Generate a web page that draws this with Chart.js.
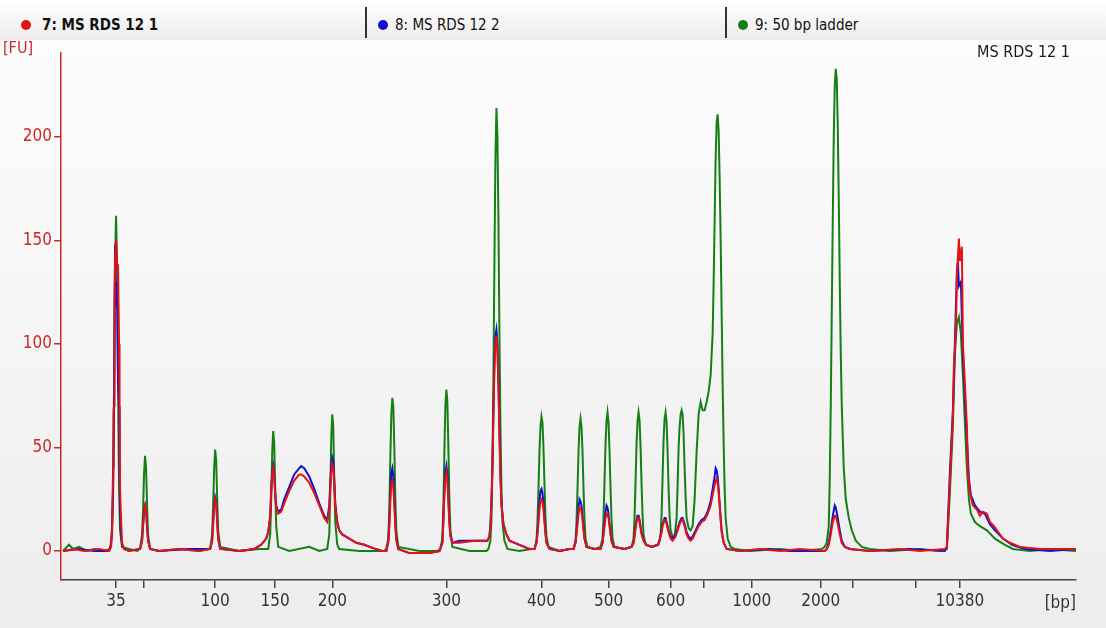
<!DOCTYPE html>
<html>
<head>
<meta charset="utf-8">
<script src="https://cdn.jsdelivr.net/npm/chart.js@4.4.1/dist/chart.umd.min.js"></script>
<style>
  html, body { margin: 0; padding: 0; }
  body {
    width: 1106px; height: 628px; overflow: hidden; position: relative;
    background: linear-gradient(#fdfdfd 0px, #f6f6f6 300px, #ededed 628px);
    font-family: "DejaVu Sans Condensed", "DejaVu Sans", sans-serif;
  }
  #head {
    position: absolute; left: 0; top: 0; width: 1106px; height: 40px;
    background: linear-gradient(#ffffff, #ececec);
  }
  .cell { position: absolute; top: 0; height: 40px; font-size: 15px; color: #111; }
  .cell .dot { position: absolute; top: 20px; width: 10px; height: 10px; border-radius: 50%; }
  .cell .txt { position: absolute; top: 16px; white-space: nowrap; }
  .sep { position: absolute; top: 7px; width: 2px; height: 31px; background: #333; }
  canvas { position: absolute; left: 0; top: 0; }
</style>
</head>
<body>
<canvas id="trace" width="1106" height="628"></canvas>
<div id="head"></div>
<script>
// sample names and colours
const sampleNames = ["7: MS RDS 12 1", "8: MS RDS 12 2", "9: 50 bp ladder"];
const sampleColors = ["rgb(228,18,18)", "rgb(18,18,205)", "rgb(20,128,20)"];

// x axis: migration time [s], tick positions and their size labels [bp]
const xTickPos = [11.7, 14.5, 21.6, 27.6, 33.3, 44.7, 54.2, 60.9, 67.1, 70.4, 75.2, 82.1, 85.3, 91.6, 96.0];
const xTickLabels = ["35", "", "100", "150", "200", "300", "400", "500", "600", "", "1000", "2000", "", "", "10380"];
const yTicks = [0, 50, 100, 150, 200];

// fluorescence [FU] vs time [s]
const sample7 = [[6.4,0],[7.5,1],[8.5,0],[10.0,1],[11.0,0],
  [11.2,2],[11.3,10],[11.4,40],[11.45,68],[11.5,70],[11.55,120],[11.6,140],[11.7,150],[11.8,138],[11.9,138],[12.0,100],[12.05,70],[12.1,30],[12.2,15],[12.3,4],[12.5,1],
  [13.0,0],[14.0,1],
  [14.1,1],[14.3,5],[14.4,12],[14.5,19],[14.6,22],[14.7,20],[14.8,12],[14.9,5],[15.1,1],
  [16.0,0],[18.0,1],[20.0,0],
  [21.1,1],[21.3,5],[21.4,13],[21.5,21],[21.6,25],[21.7,23],[21.8,15],[21.9,6],[22.1,1],
  [24.0,0],[25.5,1],[26.2,3],[26.7,6],[26.9,9],[27.1,16],[27.2,28],[27.3,37],[27.4,40],[27.5,36],[27.6,27],[27.7,21],[27.9,18],[28.2,19],[28.5,23],[29.0,29],[29.5,34],[30.0,37],[30.2,37],[30.5,36],[31.0,33],[31.5,28],[32.0,22],[32.5,16],[32.8,14],
  [33.0,20],[33.1,30],[33.2,38],[33.3,42],[33.4,40],[33.5,32],[33.6,22],[33.8,13],[34.0,10],[34.3,8],[35.0,6],[35.7,4],[36.5,3],[37.3,1.5],[38.3,0],
  [38.7,0],[38.9,4],[39.0,12],[39.1,24],[39.2,32],[39.3,34],[39.4,31],[39.5,22],[39.6,12],[39.7,5],[39.9,1],
  [41.0,-1],[43.0,-1],[44.0,0],
  [44.3,4],[44.4,14],[44.5,27],[44.6,35],[44.7,38],[44.8,34],[44.9,24],[45.0,13],[45.1,7],[45.3,4],
  [46.0,4],[47.5,5],[48.8,5],
  [49.0,7],[49.1,12],[49.2,22],[49.3,40],[49.4,65],[49.5,88],[49.6,100],[49.7,104],[49.8,97],[49.9,80],[50.0,56],[50.1,36],[50.2,22],[50.4,13],[50.7,8],[51.0,5],[52.0,3],[53.0,1],
  [53.5,1],[53.7,4],[53.8,8],[53.9,14],[54.0,20],[54.1,24],[54.2,25],[54.3,24],[54.4,20],[54.5,14],[54.6,8],[54.7,4],[55.0,1],
  [56.0,0],[57.0,1],
  [57.4,1],[57.6,4],[57.7,8],[57.8,13],[57.9,18],[58.0,21],[58.1,21],[58.2,19],[58.3,15],[58.4,10],[58.5,6],[58.7,2],
  [59.5,1],
  [60.1,1],[60.3,4],[60.4,8],[60.5,12],[60.6,16],[60.7,18],[60.8,18],[60.9,16],[61.0,12],[61.1,8],[61.2,5],[61.4,2],
  [62.5,1],
  [63.2,2],[63.4,4],[63.5,7],[63.6,11],[63.7,14],[63.8,16],[63.9,16],[64.0,14],[64.1,11],[64.2,8],[64.4,5],[64.7,3],[65.2,2],
  [65.8,3],[66.0,5],[66.2,9],[66.3,12],[66.5,15],[66.6,15],[66.7,13],[66.9,9],[67.1,6],[67.3,5],
  [67.6,7],[67.8,10],[68.0,13],[68.2,15],[68.3,15],[68.5,12],[68.7,8],[68.9,6],[69.1,5],[69.3,6],[69.6,9],[69.9,12],[70.2,14],[70.5,15],[70.8,18],[71.1,22],[71.3,27],[71.5,32],[71.7,35],[71.8,33],[71.9,28],[72.0,22],[72.1,15],[72.2,9],[72.4,4],[72.7,1],
  [74.0,0],[76.0,1],[78.0,0],[80.0,1],[82.5,0],
  [82.7,1],[82.9,3],[83.1,8],[83.3,14],[83.5,17],[83.6,17],[83.8,13],[84.0,8],[84.2,4],[84.5,2],[85.0,1],
  [87.0,0],[90.0,1],[92.0,0],[94.5,1],
  [94.7,2],[95.0,33],[95.3,65],[95.4,89],[95.6,107],[95.7,132],[95.9,151],[96.0,140],[96.2,147],[96.3,100],[96.5,81],[96.7,60],[96.8,38],[97.0,28],[97.3,22],[97.7,20],[98.0,17],[98.3,19],[98.7,18],[99.0,14],[99.4,12],[99.7,10],[100.3,6],[101.0,4],[102.0,2],[104.0,1],[106.0,1],[107.6,1]];

const sample8 = [[6.4,0],[8.0,1],[9.5,0],[11.0,0],
  [11.2,3],[11.3,12],[11.4,28],[11.5,70],[11.6,148],[11.7,118],[11.8,130],[11.9,80],[12.0,70],[12.05,40],[12.1,20],[12.2,8],[12.3,3],[12.5,1],
  [13.0,0],
  [14.1,1],[14.3,5],[14.4,13],[14.5,20],[14.6,22],[14.7,19],[14.8,11],[14.9,5],[15.1,1],
  [16.0,0],[19.0,1],
  [21.1,1],[21.3,5],[21.4,14],[21.5,22],[21.6,26],[21.7,24],[21.8,15],[21.9,6],[22.1,1],
  [24.0,0],[25.5,1],[26.2,3],[26.7,6],[26.9,9],[27.1,17],[27.2,30],[27.3,38],[27.4,41],[27.5,37],[27.6,28],[27.7,22],[27.9,19],[28.2,20],[28.5,25],[29.0,31],[29.5,37],[30.0,40],[30.2,41],[30.5,40],[31.0,36],[31.5,30],[32.0,23],[32.5,17],[32.8,15],
  [33.0,22],[33.1,33],[33.2,41],[33.3,45],[33.4,43],[33.5,34],[33.6,23],[33.8,14],[34.0,10],[34.3,8],[35.0,6],[35.7,4],[36.5,3],[37.3,1.5],[38.3,0],
  [38.7,0],[38.9,5],[39.0,14],[39.1,28],[39.2,38],[39.3,40],[39.4,36],[39.5,25],[39.6,13],[39.7,6],[39.9,1],
  [41.0,-1],[43.0,-1],[44.0,0],
  [44.3,4],[44.4,15],[44.5,30],[44.6,38],[44.7,41],[44.8,37],[44.9,26],[45.0,14],[45.1,8],[45.3,4],
  [46.0,5],[47.5,5],[48.8,5],
  [49.0,7],[49.1,13],[49.2,24],[49.3,42],[49.4,68],[49.5,92],[49.6,104],[49.7,107],[49.8,100],[49.9,82],[50.0,58],[50.1,37],[50.2,23],[50.4,13],[50.7,8],[51.0,5],[52.0,3],[53.0,1],
  [53.5,1],[53.7,4],[53.8,9],[53.9,16],[54.0,24],[54.1,29],[54.2,30],[54.3,28],[54.4,23],[54.5,16],[54.6,9],[54.7,4],[55.0,1],
  [56.0,0],[57.0,1],
  [57.4,1],[57.6,4],[57.7,9],[57.8,15],[57.9,21],[58.0,25],[58.1,24],[58.2,22],[58.3,17],[58.4,11],[58.5,6],[58.7,2],
  [59.5,1],
  [60.1,1],[60.3,4],[60.4,9],[60.5,14],[60.6,19],[60.7,22],[60.8,21],[60.9,18],[61.0,13],[61.1,9],[61.2,5],[61.4,2],
  [62.5,1],
  [63.2,2],[63.4,4],[63.5,8],[63.6,12],[63.7,15],[63.8,17],[63.9,17],[64.0,15],[64.1,12],[64.2,9],[64.4,5],[64.7,3],[65.2,2],
  [65.8,3],[66.0,5],[66.2,10],[66.3,13],[66.5,16],[66.6,16],[66.7,14],[66.9,10],[67.1,7],[67.3,6],
  [67.6,8],[67.8,11],[68.0,14],[68.2,16],[68.3,16],[68.5,13],[68.7,9],[68.9,7],[69.1,6],[69.3,7],[69.6,10],[69.9,13],[70.2,15],[70.5,16],[70.8,19],[71.1,24],[71.3,30],[71.5,36],[71.6,40],[71.7,39],[71.8,36],[71.9,30],[72.0,23],[72.1,16],[72.2,10],[72.4,4],[72.7,1],
  [74.0,0],[77.0,1],[79.0,0],[82.5,0],
  [82.7,1],[82.9,4],[83.1,10],[83.3,17],[83.5,22],[83.6,21],[83.8,16],[84.0,10],[84.2,5],[84.5,2],[85.0,1],
  [87.0,0],[91.0,1],[94.5,0],
  [94.7,2],[95.0,38],[95.3,68],[95.5,100],[95.7,135],[95.8,140],[95.9,128],[96.1,130],[96.3,95],[96.5,75],[96.7,55],[96.9,35],[97.1,27],[97.5,22],[98.0,19],[98.5,18],[99.0,13],[99.5,10],[100.3,6],[101.2,3],[102.5,1],[105.0,0],[107.6,1]];

const ladder9 = [[6.4,0],[7.0,3],[7.4,1],[8.0,2],[8.8,0],[9.5,1],[10.5,0],
  [11.1,1],[11.3,8],[11.4,30],[11.5,80],[11.6,140],[11.7,162],[11.8,140],[11.9,80],[12.0,30],[12.1,10],[12.3,2],
  [13.0,1],[13.8,0],
  [14.1,1],[14.3,8],[14.4,20],[14.5,38],[14.6,46],[14.7,40],[14.8,22],[14.9,8],[15.1,1],
  [16.0,0],[18.0,1],[20.0,0],
  [21.1,1],[21.3,8],[21.4,22],[21.5,40],[21.6,49],[21.7,44],[21.8,26],[21.9,10],[22.1,2],
  [24.0,0],[26.0,1],
  [26.9,1],[27.1,8],[27.2,25],[27.3,48],[27.4,58],[27.5,52],[27.6,30],[27.7,12],[27.9,2],
  [29.0,0],[31.0,2],[32.0,0],
  [32.8,1],[33.0,8],[33.1,28],[33.2,55],[33.3,66],[33.4,60],[33.5,35],[33.6,14],[33.8,3],[34.0,1],
  [36.0,0],[38.5,0],
  [38.7,1],[38.9,6],[39.0,20],[39.1,45],[39.2,66],[39.3,74],[39.4,70],[39.5,50],[39.6,25],[39.7,10],[39.9,2],
  [42.0,0],[43.8,0],
  [44.1,1],[44.3,6],[44.4,22],[44.5,48],[44.6,70],[44.7,78],[44.8,72],[44.9,50],[45.0,25],[45.1,10],[45.3,2],
  [47.0,0],[48.7,0],
  [48.9,1],[49.1,5],[49.2,15],[49.3,40],[49.4,85],[49.5,140],[49.6,190],[49.7,214],[49.8,200],[49.9,160],[50.0,105],[50.1,60],[50.2,30],[50.3,14],[50.5,5],[50.8,1],
  [52.0,0],[53.2,1],
  [53.5,1],[53.7,5],[53.8,14],[53.9,30],[54.0,48],[54.1,60],[54.2,65],[54.3,62],[54.4,50],[54.5,32],[54.6,16],[54.7,7],[54.9,2],
  [56.0,0],[57.0,1],
  [57.4,1],[57.6,5],[57.7,14],[57.8,30],[57.9,48],[58.0,60],[58.1,64],[58.2,60],[58.3,48],[58.4,30],[58.5,15],[58.6,6],[58.8,2],
  [59.5,1],
  [60.1,2],[60.3,6],[60.4,16],[60.5,34],[60.6,52],[60.7,63],[60.8,67],[60.9,62],[61.0,48],[61.1,30],[61.2,15],[61.3,6],[61.5,2],
  [62.5,1],
  [63.2,2],[63.4,6],[63.5,16],[63.6,34],[63.7,52],[63.8,63],[63.9,67],[64.0,63],[64.1,50],[64.2,32],[64.3,17],[64.4,8],[64.6,3],
  [65.3,2],
  [65.9,3],[66.1,8],[66.2,18],[66.3,36],[66.4,54],[66.5,64],[66.6,67],[66.7,62],[66.8,48],[66.9,30],[67.0,17],[67.1,10],[67.3,7],
  [67.5,7],[67.7,16],[67.8,32],[67.9,50],[68.0,60],[68.1,66],[68.2,68],[68.3,66],[68.4,56],[68.5,40],[68.6,26],[68.7,16],[68.9,11],[69.1,10],
  [69.3,12],[69.5,25],[69.7,48],[69.9,66],[70.1,72],[70.3,68],[70.5,68],[70.7,72],[70.9,77],[71.1,85],[71.3,105],[71.4,130],[71.5,160],[71.6,190],[71.7,207],[71.8,211],[71.9,203],[72.0,180],[72.1,150],[72.2,115],[72.3,80],[72.4,52],[72.5,30],[72.6,16],[72.8,6],[73.1,2],[73.5,1],
  [75.0,0],[78.0,1],[80.0,0],[82.2,1],
  [82.5,2],[82.7,4],[82.9,12],[83.0,35],[83.1,70],[83.2,115],[83.3,160],[83.4,200],[83.5,225],[83.6,233],[83.7,228],[83.8,205],[83.9,170],[84.0,130],[84.1,95],[84.2,70],[84.4,40],[84.6,25],[84.9,16],[85.2,10],[85.6,5],[86.2,2],[87.0,1],
  [89.0,0],[92.0,1],[94.0,0],
  [94.7,1],[95.0,28],[95.3,60],[95.5,95],[95.7,110],[95.9,113],[96.1,105],[96.3,85],[96.5,62],[96.7,40],[96.9,25],[97.1,18],[97.5,14],[98.0,12],[98.7,10],[99.5,6],[100.5,3],[101.3,1],[103.0,0],[105.0,1],[107.6,0]];

const traces = [sample7, sample8, ladder9];
const fontFam = '"DejaVu Sans Condensed", "DejaVu Sans", sans-serif';
const axisRed = "rgb(205,40,40)";

// header strip with the three sample tabs
const head = document.getElementById("head");
const cellLeft = [0, 366, 726];
sampleNames.forEach((name, i) => {
  const c = document.createElement("div");
  c.className = "cell";
  c.style.left = cellLeft[i] + "px";
  c.innerHTML = '<span class="dot" style="left:' + (i === 0 ? 21 : 12) + 'px;background:' + sampleColors[i] + '"></span>' +
    '<span class="txt" style="left:' + (i === 0 ? 42 : 29) + 'px;' + (i === 0 ? 'font-weight:bold' : '') + '">' + name + '</span>';
  head.appendChild(c);
  if (i > 0) {
    const s = document.createElement("div");
    s.className = "sep";
    s.style.left = (cellLeft[i] - 1) + "px";
    head.appendChild(s);
  }
});

// unit labels and sample caption
const extraText = {
  id: "extraText",
  afterDraw(chart) {
    const ctx = chart.ctx;
    const a = chart.chartArea;
    ctx.save();
    ctx.textBaseline = "middle";
    ctx.font = "16px " + fontFam;
    ctx.fillStyle = axisRed;
    ctx.textAlign = "left";
    ctx.fillText("[FU]", 3, 49);
    ctx.fillStyle = "#1a1a1a";
    ctx.textAlign = "right";
    ctx.fillText(sampleNames[0].slice(3), a.right - 6, a.top);
    ctx.font = "17px " + fontFam;
    ctx.fillStyle = "#333";
    ctx.fillText("[bp]", a.right, a.bottom + 24);
    ctx.restore();
  }
};

new Chart(document.getElementById("trace"), {
  type: "line",
  data: {
    datasets: traces.map((pts, i) => ({
      label: sampleNames[i],
      data: pts.map(p => ({ x: p[0], y: p[1] })),
      borderColor: sampleColors[i],
      borderWidth: 2,
      pointRadius: 0,
      tension: 0,
      fill: false
    }))
  },
  options: {
    responsive: false,
    animation: false,
    devicePixelRatio: 1,
    layout: { padding: { top: 53, right: 30, left: 0, bottom: 0 } },
    plugins: { legend: { display: false }, tooltip: { enabled: false } },
    scales: {
      x: {
        type: "linear",
        min: 6.2,
        max: 107.6,
        afterBuildTicks: s => { s.ticks = xTickPos.map(v => ({ value: v })); },
        afterFit: s => { s.height = 48; },
        ticks: {
          autoSkip: false,
          maxRotation: 0,
          padding: 3,
          color: "#333",
          font: { family: fontFam, size: 17 },
          callback: (v, i) => xTickLabels[i]
        },
        grid: { drawOnChartArea: false, tickLength: 8, color: "#444", lineWidth: 1.5 },
        border: { color: "#444", width: 1.5 }
      },
      y: {
        min: -14,
        max: 240.6,
        afterBuildTicks: s => { s.ticks = yTicks.map(v => ({ value: v })); },
        afterFit: s => { s.width = 61; },
        ticks: {
          padding: 2,
          color: axisRed,
          font: { family: fontFam, size: 17 }
        },
        grid: { drawOnChartArea: false, tickLength: 7, color: axisRed, lineWidth: 1.5 },
        border: { color: axisRed, width: 1.5 }
      }
    }
  },
  plugins: [extraText]
});
</script>
</body>
</html>
